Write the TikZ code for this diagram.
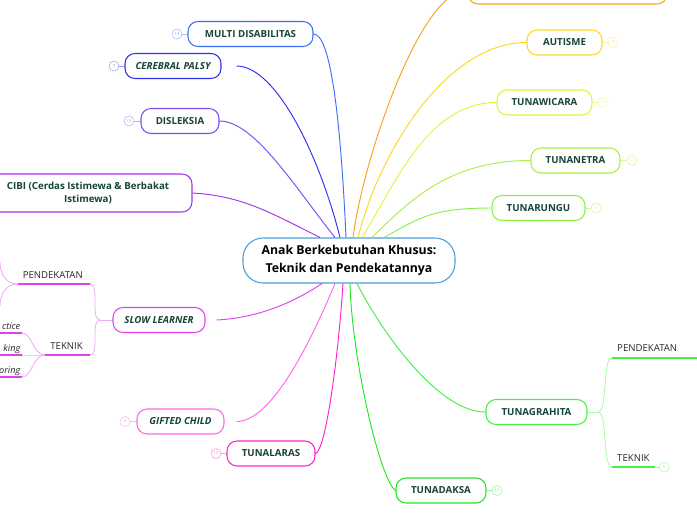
\documentclass[tikz,border=0pt]{standalone}
\usepackage{fontspec}
\setmainfont{Open Sans}
\usepackage{xcolor}
\usetikzlibrary{positioning, calc}

\definecolor{txt}{HTML}{17443A}
\definecolor{cRoot}{HTML}{4A9ED8}
\definecolor{cOrange}{HTML}{F7A21B}
\definecolor{cAutisme}{HTML}{FFD622}
\definecolor{cWicara}{HTML}{E6F23A}
\definecolor{cNetra}{HTML}{AAF040}
\definecolor{cRungu}{HTML}{88F044}
\definecolor{cGrahita}{HTML}{44F044}
\definecolor{cDaksa}{HTML}{22E622}
\definecolor{cLaras}{HTML}{FF22CC}
\definecolor{cGifted}{HTML}{FF66E8}
\definecolor{cSlow}{HTML}{E040F0}
\definecolor{cCibi}{HTML}{A830F0}
\definecolor{cDisleksia}{HTML}{7A4CF0}
\definecolor{cCerebral}{HTML}{2E2EF0}
\definecolor{cMulti}{HTML}{3B6EF5}

\begin{document}
\begin{tikzpicture}[
    x=0.03cm, y=-0.03cm,
    font=\fontsize{8.2}{10}\selectfont,
    box/.style={draw=#1, line width=0.9pt, rounded corners=0.3cm, fill=white,
        minimum height=0.75cm, inner xsep=4pt, text=txt,
        font=\fontsize{8.3}{10.5}\selectfont\bfseries},
    ibox/.style={box=#1, font=\fontsize{8.3}{10.5}\selectfont\bfseries\itshape},
    link/.style={draw=#1, line width=0.8pt},
    fork/.style={draw=#1!45, line width=0.7pt},
    uline/.style={draw=#1, line width=1.3pt},
    count/.style={circle, draw=#1!45, text=#1!60, line width=0.5pt,
        inner sep=0pt, minimum size=0.3cm, font=\fontsize{3.5}{4}\selectfont},
    tick/.style={draw=#1!45, line width=0.6pt},
    sublabel/.style={inner sep=0pt, text=black!85, font=\fontsize{8.2}{10}\selectfont},
    frag/.style={inner sep=0pt, text=black!85, font=\fontsize{7.8}{10}\selectfont\itshape},
]
\useasboundingbox (0,0) rectangle (697,520);
\clip (0,0) rectangle (697,520);

%% Root
\node[draw=cRoot, line width=0.9pt, rounded corners=0.6cm, fill=white,
    minimum width=6.36cm, minimum height=1.35cm, align=center,
    font=\fontsize{10.5}{15}\selectfont\bfseries] (abk) at (349,260.5)
    {Anak Berkebutuhan Khusus:\\Teknik dan Pendekatannya};

%% Right branches
\node[box=cOrange, minimum width=5.97cm, minimum height=0.84cm] (top) at (567.5,-10) {};
\node[box=cAutisme, minimum width=2.25cm]  (autisme) at (564.5,42.5)  {AUTISME};
\node[box=cWicara, minimum width=2.85cm]   (wicara)  at (544.5,102.5) {TUNAWICARA};
\node[box=cNetra, minimum width=2.67cm]    (netra)   at (575.5,160.5) {TUNANETRA};
\node[box=cRungu, minimum width=2.79cm]    (rungu)   at (538.5,208)   {TUNARUNGU};
\node[box=cGrahita, minimum width=3.03cm]  (grahita) at (536.5,412)   {TUNAGRAHITA};
\node[box=cDaksa, minimum width=2.7cm]     (daksa)   at (441,490.5)   {TUNADAKSA};

%% Left branches
\node[box=cMulti, minimum width=3.75cm]      (multi)     at (250.5,34)  {MULTI DISABILITAS};
\node[ibox=cCerebral, minimum width=2.88cm]  (cerebral)  at (173,66)    {CEREBRAL PALSY};
\node[box=cDisleksia, minimum width=2.34cm]  (disleksia) at (180,121)   {DISLEKSIA};
\node[box=cCibi, minimum width=6.24cm, minimum height=1.14cm, align=center]
    (cibi) at (88,193) {CIBI (Cerdas Istimewa \& Berbakat\\Istimewa)};
\node[ibox=cSlow, minimum width=2.76cm]      (slow)      at (159,320)   {SLOW LEARNER};
\node[ibox=cGifted, minimum width=2.61cm]    (gifted)    at (180.5,421.5) {GIFTED CHILD};
\node[box=cLaras, minimum width=2.64cm]      (laras)     at (271,453.5) {TUNALARAS};

%% Counts
\node[count=cMulti]     (multiN)     at (177,34)  {13};
\node[count=cCerebral]  (cerebralN)  at (114,66)  {7};
\node[count=cDisleksia] (disleksiaN) at (129,121) {10};
\node[count=cAutisme]   (autismeN)   at (613,42.5) {19};
\node[count=cWicara]    (wicaraN)    at (603,102.5) {15};
\node[count=cNetra]     (netraN)     at (632,160.5) {3};
\node[count=cRungu]     (runguN)     at (596,208) {3};
\node[count=cGifted]    (giftedN)    at (125,421.5) {8};
\node[count=cLaras]     (larasN)     at (216,453.5) {13};
\node[count=cDaksa]     (daksaN)     at (497,490.5) {13};
\draw[tick=cMulti] (multi.west) -- (multiN);
\draw[tick=cCerebral] (cerebral.west) -- (cerebralN);
\draw[tick=cDisleksia] (disleksia.west) -- (disleksiaN);
\draw[tick=cAutisme] (autisme.east) -- (autismeN);
\draw[tick=cWicara] (wicara.east) -- (wicaraN);
\draw[tick=cNetra] (netra.east) -- (netraN);
\draw[tick=cRungu] (rungu.east) -- (runguN);
\draw[tick=cGifted] (gifted.west) -- (giftedN);
\draw[tick=cLaras] (laras.west) -- (larasN);
\draw[tick=cDaksa] (daksa.east) -- (daksaN);

%% Links from the root
\draw[link=cOrange] ($(abk.north)+(4,0)$) .. controls (363,160) and (420,-10) .. (top.west);
\draw[link=cAutisme] ($(abk.north)+(9,0)$) .. controls (380,150) and (447,42.5) .. (autisme.west);
\draw[link=cWicara] ($(abk.north)+(13,0)$) .. controls (395,185) and (427,102.5) .. (wicara.west);
\draw[link=cNetra] ($(abk.north)+(23,0)$) .. controls (412,198) and (451,160.5) .. (netra.west);
\draw[link=cRungu] ($(abk.north)+(35,0)$) .. controls (419,218) and (432,208) .. (rungu.west);
\draw[link=cMulti] (multi.east) .. controls +(18,0) and +(-5,-110) .. ($(abk.north)+(-3,0)$);
\draw[link=cCerebral] ($(cerebral.east)+(15,0)$) .. controls +(40,0) and +(-20,-80) .. ($(abk.north)+(-9,0)$);
\draw[link=cDisleksia] (disleksia.east) .. controls +(35,0) and +(-40,-50) .. ($(abk.north)+(-14,0)$);
\draw[link=cCibi] (cibi.east) .. controls +(50,3) and +(-50,-25) .. ($(abk.north)+(-29,0)$);
\draw[link=cSlow] ($(slow.east)+(11,0)$) .. controls +(40,-2) and +(-30,20) .. ($(abk.south)+(-27,0)$);
\draw[link=cGifted] ($(gifted.east)+(12,0)$) .. controls +(35,0) and +(-25,60) .. ($(abk.south)+(-14,0)$);
\draw[link=cLaras] (laras.east) .. controls +(10,-3) and +(-5,77) .. ($(abk.south)+(-6,0)$);
\draw[link=cDaksa] (daksa.west) .. controls +(-15,-10) and +(2,77) .. ($(abk.south)+(1,0)$);
\draw[link=cGrahita] (grahita.west) .. controls +(-50,0) and +(20,40) .. ($(abk.south)+(8,0)$);

%% Slow learner sub branches
\coordinate (slF)  at (100,320);
\coordinate (slPa) at (18,284);
\coordinate (slPb) at (90,284);
\coordinate (slPu) at (0,262);
\coordinate (slPd) at (0,306);
\coordinate (slTa) at (45,355);
\coordinate (slTb) at (90,355);
\node[sublabel, anchor=base east] (slP) at (83,278) {PENDEKATAN};
\node[sublabel, anchor=base east] (slT) at (83,349) {TEKNIK};
\draw[fork=cSlow] (slow.west) -- (slF);
\draw[fork=cSlow] (slF) .. controls +(-10,0) and +(10,0) .. (slPb);
\draw[fork=cSlow] (slF) .. controls +(-10,0) and +(10,0) .. (slTb);
\draw[uline=cSlow] (slPa) -- (slPb);
\draw[uline=cSlow] (slTa) -- (slTb);
\draw[fork=cSlow] (slPa) .. controls +(-12,0) and +(0,12) .. (slPu);
\draw[fork=cSlow] (slPa) .. controls +(-12,0) and +(0,-12) .. (slPd);
\foreach \y/\txt in {333/ctice, 355/king, 377/oring} {
    \coordinate (slK\y) at (22,\y);
    \coordinate (slL\y) at (-20,\y);
    \node[frag, anchor=base east] (slC\y) at (20.5,\y-4) {\txt};
    \draw[fork=cSlow] (slTa) .. controls +(-12,0) and +(10,0) .. (slK\y);
    \draw[uline=cSlow] (slL\y) -- (slK\y);
}

%% Tunagrahita sub branches
\coordinate (tgF)  at (598,412);
\coordinate (tgPa) at (612,358);
\coordinate (tgPb) at (700,358);
\coordinate (tgTa) at (612,467);
\coordinate (tgTb) at (655,467);
\node[sublabel, anchor=base west] (tgP) at (617,351) {PENDEKATAN};
\node[sublabel, anchor=base west] (tgT) at (617,461) {TEKNIK};
\node[count=cGrahita] (tgTN) at (664,467) {5};
\draw[fork=cGrahita] (grahita.east) -- (tgF);
\draw[fork=cGrahita] (tgF) .. controls +(10,0) and +(-10,0) .. (tgPa);
\draw[fork=cGrahita] (tgF) .. controls +(10,0) and +(-10,0) .. (tgTa);
\draw[uline=cGrahita] (tgPa) -- (tgPb);
\draw[uline=cGrahita] (tgTa) -- (tgTb);
\draw[tick=cGrahita] (tgTb) -- (tgTN);
\end{tikzpicture}
\end{document}
